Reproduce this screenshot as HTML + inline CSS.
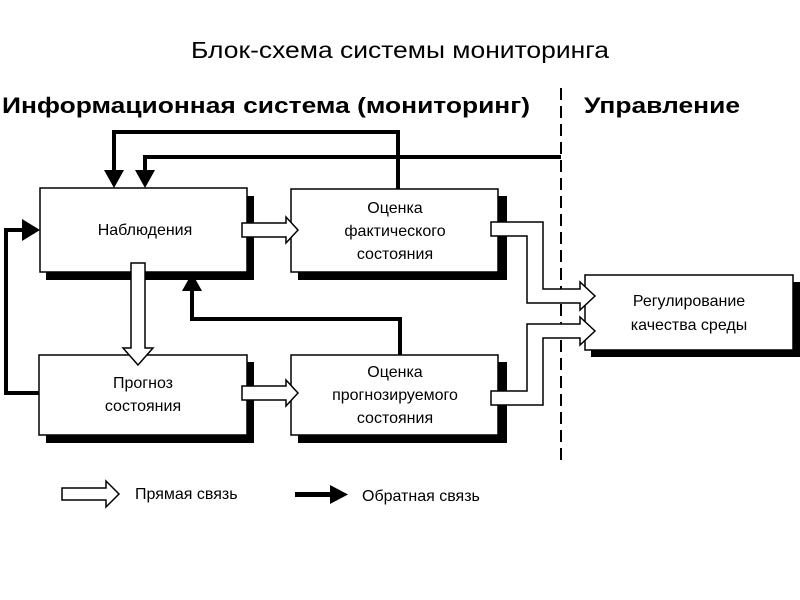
<!DOCTYPE html>
<html><head><meta charset="utf-8"><style>
html,body{margin:0;padding:0;background:#fff;width:800px;height:600px;overflow:hidden}
svg{display:block}
text{font-family:"Liberation Sans","DejaVu Sans",sans-serif;fill:#000}
</style></head><body>
<svg width="800" height="600" viewBox="0 0 800 600" xmlns="http://www.w3.org/2000/svg">
<text x="400" y="58" font-size="23" text-anchor="middle" textLength="418" lengthAdjust="spacingAndGlyphs">Блок-схема системы мониторинга</text>
<text x="2" y="113" font-size="22" font-weight="bold" textLength="528" lengthAdjust="spacingAndGlyphs">Информационная система (мониторинг)</text>
<text x="584" y="113" font-size="22" font-weight="bold" textLength="156" lengthAdjust="spacingAndGlyphs">Управление</text>
<line x1="561" y1="88" x2="561" y2="462" stroke="#000" stroke-width="2" stroke-dasharray="12,6"/>

<!-- shadows -->
<g fill="#000">
<rect x="46" y="196" width="208" height="84"/>
<rect x="298" y="196" width="209" height="84"/>
<rect x="46" y="362" width="208" height="81"/>
<rect x="298" y="362" width="209" height="81"/>
<rect x="591" y="282" width="209" height="75"/>
</g>
<g fill="#fff" stroke="#000" stroke-width="1.5">
<rect x="40" y="188" width="207" height="84"/>
<rect x="291" y="189" width="207" height="83"/>
<rect x="39" y="355" width="208" height="80"/>
<rect x="291" y="355" width="207" height="80"/>
<rect x="585" y="275" width="208" height="75"/>
</g>

<!-- feedback lines -->
<g fill="none" stroke="#000" stroke-width="4">
<polyline points="398,189 398,132 114,132 114,172"/>
<polyline points="561,157 145,157 145,172"/>
<polyline points="400,355 400,319 192,319 192,290"/>
<polyline points="39,393 6,393 6,230 26,230"/>
</g>
<g fill="#000">
<polygon points="104,170 124,170 114,188"/>
<polygon points="135,170 155,170 145,188"/>
<polygon points="182,291 202,291 192,273"/>
<polygon points="22,219 22,241 40,230"/>
</g>

<!-- hollow arrows -->
<g fill="#fff" stroke="#000" stroke-width="1.5">
<polygon points="242,223 286,223 286,217 298,230 286,243 286,237 242,237"/>
<polygon points="242,386 286,386 286,380 298,393 286,406 286,400 242,400"/>
<polygon points="131,263 145,263 145,348 153,348 138,365 123,348 131,348"/>
<polygon points="491,222 543,222 543,289 580,289 580,282 595,296 580,310 580,303 527,303 527,236 491,236"/>
<polygon points="491,405 543,405 543,338 580,338 580,345 595,331 580,317 580,324 527,324 527,391 491,391"/>
<polygon points="62,488 106,488 106,481 119,494 106,507 106,500 62,500"/>
</g>
<g fill="#000">
<rect x="295" y="492" width="38" height="5"/>
<polygon points="330,485 348,494.5 330,504"/>
</g>

<g font-size="16" text-anchor="middle">
<text x="145" y="235">Наблюдения</text>
<text x="395" y="213">Оценка</text>
<text x="395" y="236">фактического</text>
<text x="395" y="259">состояния</text>
<text x="143" y="388">Прогноз</text>
<text x="143" y="411">состояния</text>
<text x="395" y="377">Оценка</text>
<text x="395" y="400">прогнозируемого</text>
<text x="395" y="423">состояния</text>
<text x="689" y="306">Регулирование</text>
<text x="689" y="330">качества среды</text>
</g>
<text x="135" y="499" font-size="16">Прямая связь</text>
<text x="362" y="501" font-size="16">Обратная связь</text>
</svg>
</body></html>
